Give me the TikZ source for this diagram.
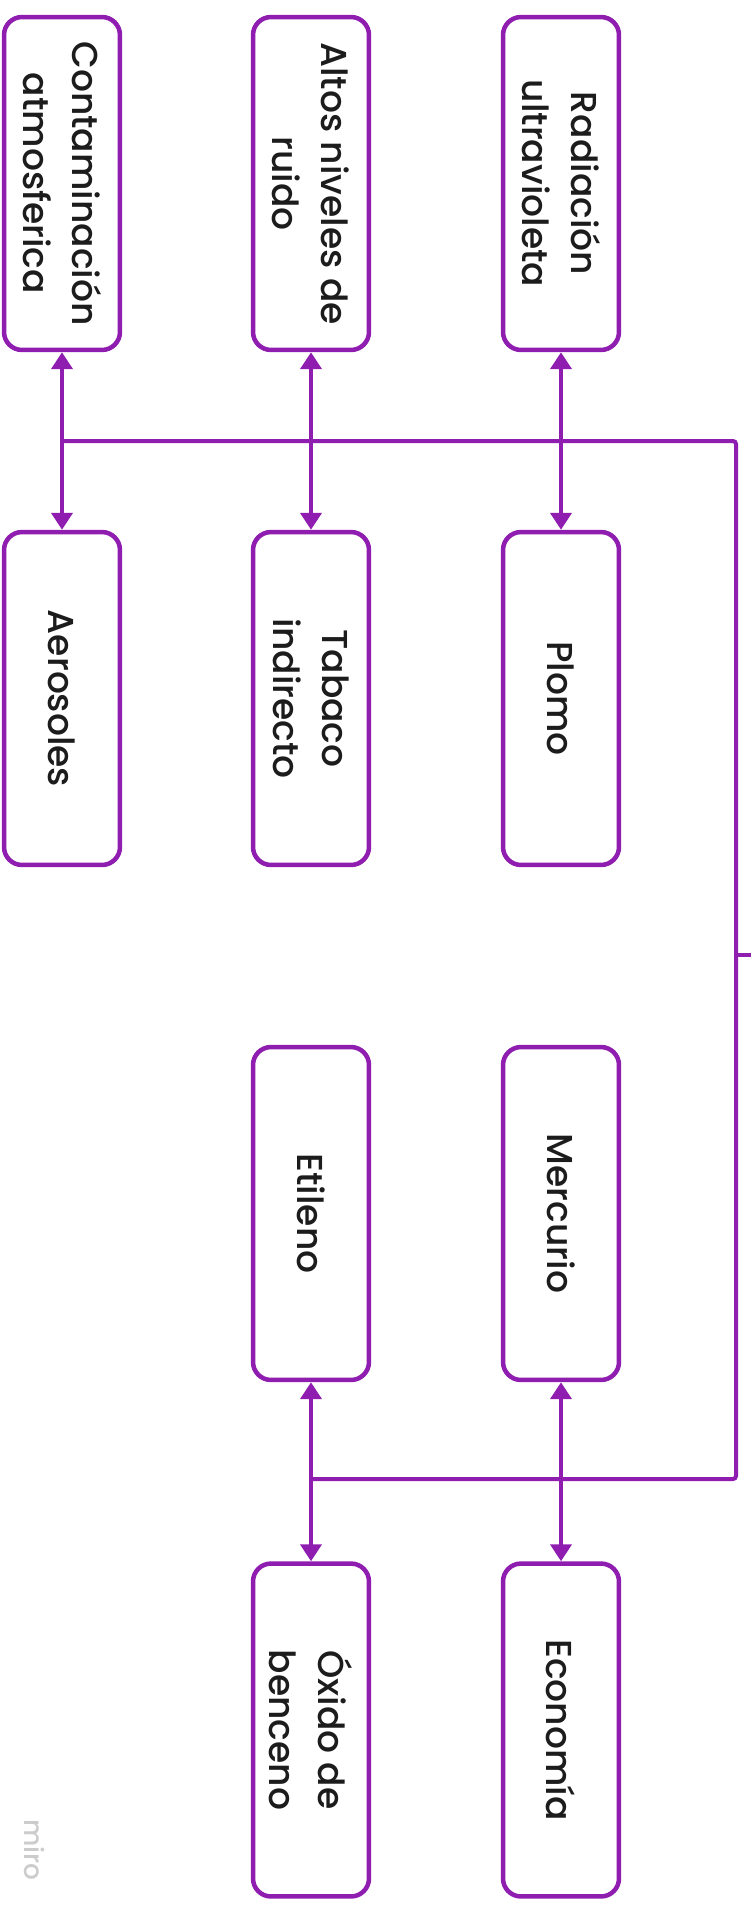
\documentclass[tikz,border=0pt]{standalone}
\usepackage{fontspec}
\setmainfont{Poppins Medium}
\usetikzlibrary{positioning, arrows.meta}
\definecolor{miroviolet}{HTML}{8E1DB0}
\definecolor{inktext}{HTML}{1C1C1C}
\tikzset{
  causebox/.style={draw=miroviolet, line width=0.09cm, rounded corners=0.36cm, fill=white,
    rotate=-90, minimum width=6.66cm, minimum height=2.32cm, align=center, inner sep=0pt,
    text=inktext, font=\fontsize{20.5}{28}\selectfont},
  link/.style={draw=miroviolet, line width=0.08cm},
  twoway/.style={link, {Triangle[length=0.34cm, width=0.42cm]}-{Triangle[length=0.34cm, width=0.42cm]}}
}
\begin{document}
\begin{tikzpicture}[x=0.02cm, y=-0.02cm]
\useasboundingbox (0,0) rectangle (751,1910);

\node[causebox] (contam) at (62,183.5) {Contaminación\\atmosferica};
\node[causebox] (ruido) at (311,183.5) {Altos niveles de\\ruido};
\node[causebox] (radiac) at (561,183.5) {Radiación\\ultravioleta};

\node[causebox] (aeros) at (62,698.5) {Aerosoles};
\node[causebox] (tabaco) at (311,698.5) {Tabaco\\indirecto};
\node[causebox] (plomo) at (561,698.5) {Plomo};

\node[causebox] (etileno) at (311,1213.5) {Etileno};
\node[causebox] (mercurio) at (561,1213.5) {Mercurio};

\node[causebox] (oxido) at (311,1730) {Óxido de\\benceno};
\node[causebox] (econom) at (561,1730) {Economía};

\coordinate (bustop) at (736,441);
\coordinate (busbottom) at (736,1479);
\coordinate (stub) at (751,955);

\draw[link, rounded corners=0.06cm] (contam.east |- bustop) -- (bustop) -- (busbottom) -- (etileno.east |- busbottom);
\draw[link] (bustop |- stub) -- (stub);

\draw[twoway] (contam.east) -- (aeros.west);
\draw[twoway] (ruido.east) -- (tabaco.west);
\draw[twoway] (radiac.east) -- (plomo.west);
\draw[twoway] (etileno.east) -- (oxido.west);
\draw[twoway] (mercurio.east) -- (econom.west);

\node[rotate=-90, text=black!20, font=\fontsize{15}{18}\selectfont] (watermark) at (35,1850) {miro};
\end{tikzpicture}
\end{document}
